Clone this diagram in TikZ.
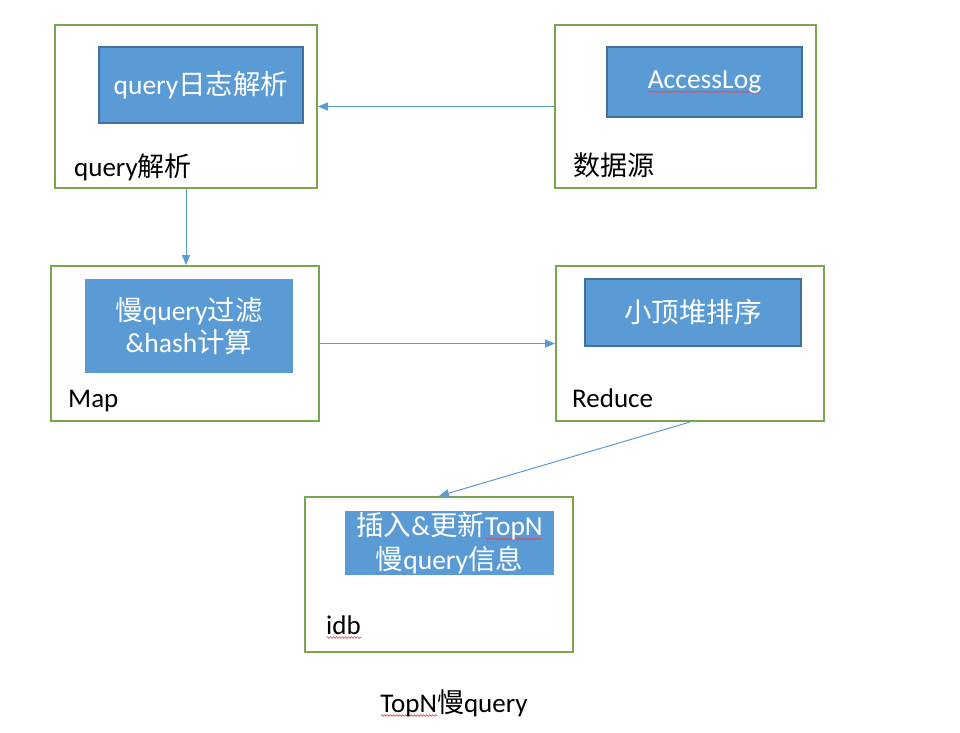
\documentclass[tikz,border=0pt]{standalone}
\usepackage{fontspec}
\setmainfont{Carlito}
\newfontfamily\cjk{Noto Sans CJK SC}
\usetikzlibrary{arrows.meta,decorations.pathmorphing}
\definecolor{boxgreen}{HTML}{7AA650}
\definecolor{fillblue}{HTML}{5B9BD5}
\definecolor{edgeblue}{HTML}{41719C}
\definecolor{squig}{HTML}{D94A5A}
\newcommand\sqg[1]{\setbox0\hbox{#1}\leavevmode\rlap{\tikz[baseline=0pt]\draw[squig,line width=0.6pt,decorate,decoration={snake,amplitude=0.8pt,segment length=3pt}] (0pt,-3.5pt) -- (\wd0,-3.5pt);}\box0}
\begin{document}
\begin{tikzpicture}[x=1pt,y=-1pt,
  outerbox/.style={draw=boxgreen,line width=2pt,inner sep=0pt},
  innerbox/.style={fill=fillblue,text=white,inner sep=0pt,align=center,font=\fontsize{27.5}{32}\selectfont},
  innerframed/.style={innerbox,draw=edgeblue,line width=1.3pt},
  lbl/.style={inner sep=0pt,anchor=base west,font=\fontsize{27}{32}\selectfont},
  flow/.style={draw=fillblue,line width=1pt,-{Triangle[length=10pt,width=8pt]}}]
\useasboundingbox (0,0) rectangle (960,732);
\fill[white] (0,0) rectangle (960,732);
% query parse
\node[outerbox,minimum width=262,minimum height=163] (qbox) at (186,106.5) {};
\node[innerframed,minimum width=204,minimum height=76] (qin) at (201,85) {query{\cjk 日志解析}};
\node[lbl] (qlbl) at (74,176) {query{\cjk 解析}};
% data source
\node[outerbox,minimum width=261,minimum height=163] (dbox) at (685.5,106.5) {};
\node[innerframed,minimum width=195,minimum height=70] (din) at (704.5,82) {\sqg{AccessLog}};
\node[lbl] (dlbl) at (573,175) {{\cjk 数据源}};
% map
\node[outerbox,minimum width=268,minimum height=155] (mbox) at (185,343.5) {};
\node[innerbox,minimum width=208,minimum height=94] (min) at (189,326) {{\cjk 慢}query{\cjk 过滤}\\\&hash{\cjk 计算}};
\node[lbl] (mlbl) at (68,407) {Map};
% reduce
\node[outerbox,minimum width=268,minimum height=155] (rbox) at (690,343.5) {};
\node[innerframed,minimum width=216,minimum height=67] (rin) at (693,312.5) {{\cjk 小顶堆排序}};
\node[lbl] (rlbl) at (572,407) {Reduce};
% idb
\node[outerbox,minimum width=268,minimum height=155] (ibox) at (439,574.5) {};
\node[innerbox,minimum width=209,minimum height=64,font=\fontsize{27.5}{34}\selectfont] (iin) at (449.5,543) {{\cjk 插入}\&{\cjk 更新}\sqg{TopN}\\{\cjk 慢}query{\cjk 信息}};
\node[lbl] (ilbl) at (326,634) {\sqg{idb}};
% caption
\node[inner sep=0pt,anchor=base,font=\fontsize{27}{32}\selectfont] (cap) at (454,712) {\sqg{TopN}{\cjk 慢}query};
% connectors
\draw[flow] (dbox.west) -- (qbox.east);
\draw[flow] (qbox.south) -- (qbox.south |- mbox.north);
\draw[flow] (mbox.east) -- (rbox.west);
\draw[flow] (rbox.south) -- (ibox.north);
\end{tikzpicture}
\end{document}
